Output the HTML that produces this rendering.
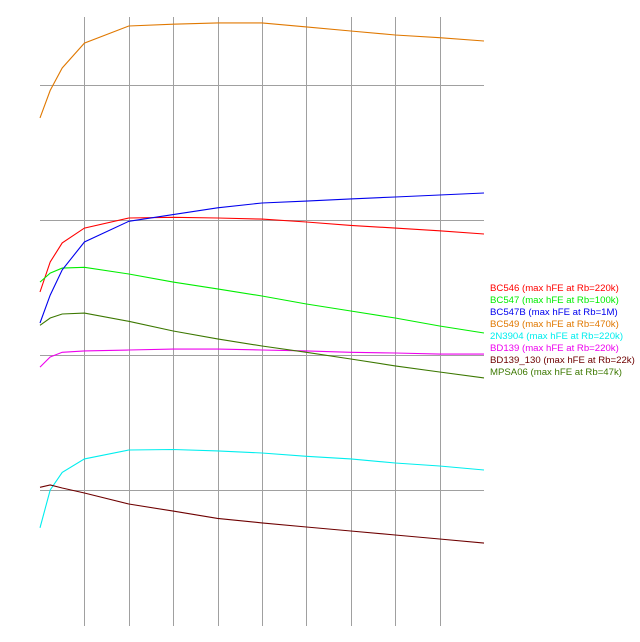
<!DOCTYPE html>
<html><head><meta charset="utf-8"><style>
html,body{margin:0;padding:0;background:#fff;}
svg{display:block;}
text{font-family:"Liberation Sans",sans-serif;font-size:9.6px;}
</style></head><body>
<svg id="chart" width="640" height="642" viewBox="0 0 640 642">
<g id="grid"></g>
<g id="series"></g>
<g id="legend"></g>
</svg>
<script>
const xs = [0,0.23,0.5,1,2,3,4,5,6,7,8,9,10];
const seriesNames = ["BC546 (max hFE at Rb=220k)","BC547 (max hFE at Rb=100k)","BC547B (max hFE at Rb=1M)","BC549 (max hFE at Rb=470k)","2N3904 (max hFE at Rb=220k)","BD139 (max hFE at Rb=220k)","BD139_130 (max hFE at Rb=22k)","MPSA06 (max hFE at Rb=47k)"];
const seriesColors = ["#ff0000","#00ee00","#0000ee","#e07800","#00eeee","#ee00ee","#6e0000","#3c7800"];
const bc546 = [246.7,268.9,283,294,301.5,302,301.5,300.7,298.5,296,294,292,289.6];
const bc547 = [254,260.7,264.4,265,260,254,249,243.7,237.8,232.6,227.4,221.5,216.3];
const bc547b = [223.7,244.4,263,283.7,299,304,309,312.6,314,315.6,317,318.5,320];
const bc549 = [375.6,396,412.6,431,443.7,445,446,446,443,440,437,435,432.6];
const n2n3904 = [72,100,113,123,129.6,130,129,127.4,125,123,120,117.8,114.8];
const bd139 = [191,198.5,202,203,203.7,204.4,204.4,203.7,203,202,201.5,200.7,200.7];
const bd139_130 = [102,103.7,101.5,97.8,89.6,84.4,79,75.6,72.6,69.6,66.7,63.7,60.7];
const mpsa06 = [222,227.4,230.4,231,225,217.8,211.9,206.7,202,197,191.9,187.4,183];
const xGridTicks = [1,2,3,4,5,6,7,8,9];
const yGridTicks = [100,200,300,400];

const NS="http://www.w3.org/2000/svg";
function X(u){return 40+u*44.4;}
function Y(v){return 490-(v-100)*1.35;}
const grid=document.getElementById('grid');
for(const t of xGridTicks){
  const l=document.createElementNS(NS,'line');
  const xp=Math.round(X(t))+0.5;
  l.setAttribute('x1',xp);l.setAttribute('x2',xp);
  l.setAttribute('y1',17);l.setAttribute('y2',626);
  l.setAttribute('stroke','#a0a0a0');l.setAttribute('stroke-width','1');
  
  
  grid.appendChild(l);
}
for(const t of yGridTicks){
  const l=document.createElementNS(NS,'line');
  const yp=Math.round(Y(t))+0.5;
  l.setAttribute('x1',40);l.setAttribute('x2',484);
  l.setAttribute('y1',yp);l.setAttribute('y2',yp);
  l.setAttribute('stroke','#a0a0a0');l.setAttribute('stroke-width','1');
  
  
  grid.appendChild(l);
}
const allSeries=[bc546,bc547,bc547b,bc549,n2n3904,bd139,bd139_130,mpsa06];
const sg=document.getElementById('series');
allSeries.forEach((vals,i)=>{
  const p=document.createElementNS(NS,'polyline');
  p.setAttribute('points',vals.map((v,j)=>X(xs[j]).toFixed(1)+','+Y(v).toFixed(1)).join(' '));
  p.setAttribute('fill','none');p.setAttribute('stroke',seriesColors[i]);p.setAttribute('stroke-width','1.1');
  
  
  sg.appendChild(p);
});
const lg=document.getElementById('legend');
seriesNames.forEach((n,i)=>{
  const t=document.createElementNS(NS,'text');
  t.setAttribute('x',490);t.setAttribute('y',291+i*12);
  t.setAttribute('fill',seriesColors[i]);
  t.textContent=n;
  
  
  lg.appendChild(t);
});
</script>
</body></html>
